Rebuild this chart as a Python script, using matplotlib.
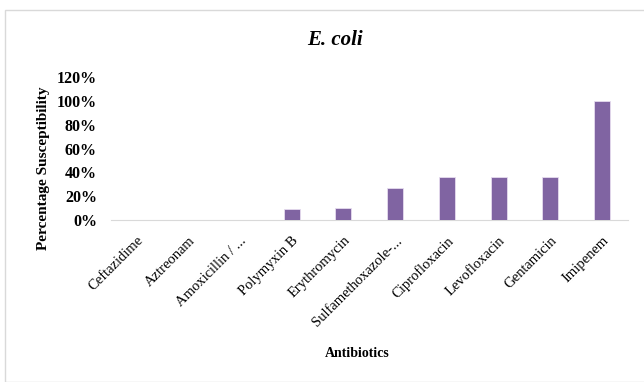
import matplotlib
matplotlib.use("Agg")
import matplotlib.pyplot as plt
from matplotlib.patches import Rectangle
from matplotlib.ticker import PercentFormatter

antibiotics = [
    "Ceftazidime", "Aztreonam", "Amoxicillin / ...", "Polymyxin B", "Erythromycin",
    "Sulfamethoxazole-...", "Ciprofloxacin", "Levofloxacin", "Gentamicin", "Imipenem",
]
susceptibility = [0, 0, 0, 9.1, 10, 27.3, 36.4, 36.4, 36.4, 100]
yticks = [0, 20, 40, 60, 80, 100, 120]

plt.rcParams["font.family"] = ["Liberation Serif", "DejaVu Serif"]

fig = plt.figure(figsize=(6.44, 3.82), dpi=100)
fig.patches.append(Rectangle((5 / 644, 0.0), 1.0, 1 - 10 / 382, transform=fig.transFigure,
                             fill=False, edgecolor="#d9d9d9", linewidth=1.0))

ax = fig.add_axes([0.172, 0.424, 0.803, 0.374])
x = range(len(antibiotics))
ax.bar(x, susceptibility, width=0.31, color="#8064A2", edgecolor="#e6dcef", linewidth=0.6, zorder=3)

ax.set_ylim(0, 120)
ax.set_xlim(-0.5, len(antibiotics) - 0.5)
ax.set_yticks(yticks)
ax.yaxis.set_major_formatter(PercentFormatter(decimals=0))
ax.set_xticks(list(x))
ax.set_xticklabels(antibiotics, rotation=45, ha="right", rotation_mode="anchor", fontsize=10.5)
for lbl in ax.get_yticklabels():
    lbl.set_fontweight("bold")
    lbl.set_fontsize(11.5)

for side in ["top", "right", "left"]:
    ax.spines[side].set_visible(False)
ax.spines["bottom"].set_color("#d9d9d9")
ax.tick_params(axis="both", length=0)
ax.tick_params(axis="y", pad=10)
ax.tick_params(axis="x", pad=10)

fig.text(0.52, 0.895, "E. coli", ha="center", va="center", fontsize=15,
         fontweight="bold", style="italic")
fig.text(0.067, 0.56, "Percentage Susceptibility", rotation=90, ha="center", va="center",
         fontsize=11, fontweight="bold")
fig.text(0.555, 0.075, "Antibiotics", ha="center", va="center", fontsize=10, fontweight="bold")

fig.savefig("out.png", dpi=100)
